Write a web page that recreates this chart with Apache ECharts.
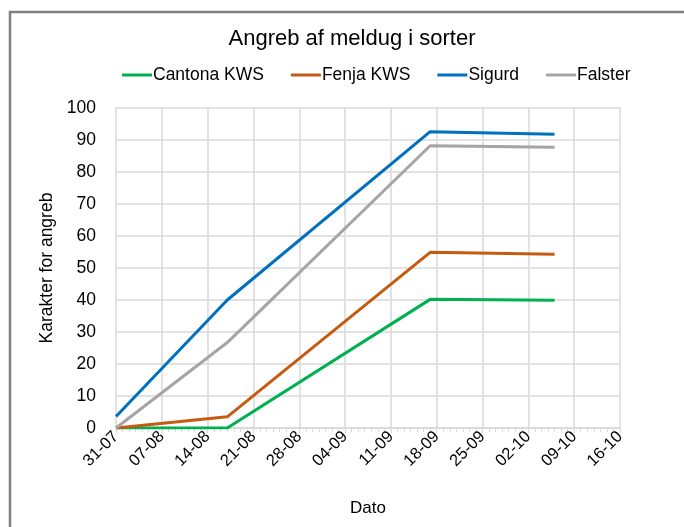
<!DOCTYPE html>
<html>
<head>
<meta charset="utf-8">
<script src="https://cdn.jsdelivr.net/npm/echarts@6/dist/echarts.min.js"></script>
<style>
html,body{margin:0;padding:0;background:#fff;}
#chart{width:684px;height:527px;}
</style>
</head>
<body>
<div id="chart"></div>
<script>
// Data
const seriesNames = ['Cantona KWS', 'Fenja KWS', 'Sigurd', 'Falster'];
const obsDates = ['2023-07-31', '2023-08-17', '2023-09-17', '2023-10-06'];
const cantona = [0, 0, 40.2, 39.9];
const fenja = [0, 3.5, 54.9, 54.3];
const sigurd = [3.6, 40, 92.6, 91.8];
const falster = [0, 26.7, 88.2, 87.7];
const axisStart = '2023-07-31';
const axisEnd = '2023-10-16';
const tickDays = 7;
const yMin = 0, yMax = 100, yStep = 10;
const colors = ['#00B050', '#C55A11', '#0070C0', '#A5A5A5'];

const DAY = 86400000;
const t0 = Date.parse(axisStart + 'T00:00:00Z');
const dayOf = s => Math.round((Date.parse(s + 'T00:00:00Z') - t0) / DAY);
const fmt = d => {
  const dt = new Date(t0 + d * DAY);
  const dd = String(dt.getUTCDate()).padStart(2, '0');
  const mm = String(dt.getUTCMonth() + 1).padStart(2, '0');
  return dd + '-' + mm;
};
const allVals = [cantona, fenja, sigurd, falster];
const FONT = 'Liberation Sans';

const chart = echarts.init(document.getElementById('chart'));
chart.setOption({
  backgroundColor: '#fff',
  animation: false,
  textStyle: { fontFamily: FONT },
  graphic: [{
    type: 'rect',
    shape: { x: 10, y: 12, width: 700, height: 540 },
    style: { fill: 'none', stroke: '#808080', lineWidth: 2.5 },
    silent: true
  }],
  title: {
    text: 'Angreb af meldug i sorter',
    left: 347, textAlign: 'center', top: 23,
    textStyle: { fontFamily: FONT, fontSize: 22, fontWeight: 'normal', color: '#000' }
  },
  legend: {
    top: 61, left: 117,
    itemWidth: 30, itemHeight: 3, itemGap: 27,
    icon: 'rect',
    textStyle: { fontFamily: FONT, fontSize: 17.5, color: '#000', padding: [0, 0, 0, -4] },
    data: seriesNames
  },
  grid: { left: 116, right: 64, top: 108, bottom: 99, containLabel: false },
  xAxis: {
    type: 'value',
    min: 0, max: dayOf(axisEnd), interval: tickDays,
    name: 'Dato', nameLocation: 'middle', nameGap: 72,
    nameTextStyle: { fontFamily: FONT, fontSize: 17, color: '#000' },
    axisLine: { show: true, lineStyle: { color: '#D9D9D9', width: 1.5 } },
    axisTick: { show: true, length: 5, lineStyle: { color: '#D9D9D9' } },
    minorTick: { show: true, splitNumber: 7, length: 4, lineStyle: { color: '#D9D9D9' } },
    splitLine: { show: true, lineStyle: { color: '#D9D9D9', width: 1.5 } },
    axisLabel: {
      rotate: 45, fontFamily: FONT, fontSize: 16.5, color: '#000', margin: 6,
      formatter: v => fmt(v)
    }
  },
  yAxis: {
    type: 'value',
    min: yMin, max: yMax, interval: yStep,
    name: 'Karakter for angreb', nameLocation: 'middle', nameGap: 57,
    nameTextStyle: { fontFamily: FONT, fontSize: 17.5, color: '#000' },
    axisLine: { show: false },
    axisTick: { show: false },
    splitLine: { show: true, lineStyle: { color: '#D9D9D9', width: 1.5 } },
    axisLabel: { fontFamily: FONT, fontSize: 17.5, color: '#000', margin: 20 }
  },
  series: seriesNames.map((n, i) => ({
    name: n, type: 'line',
    data: obsDates.map((d, j) => [dayOf(d), allVals[i][j]]),
    showSymbol: false, symbol: 'none',
    lineStyle: { color: colors[i], width: 3 },
    itemStyle: { color: colors[i] }
  }))
});
</script>
</body>
</html>
